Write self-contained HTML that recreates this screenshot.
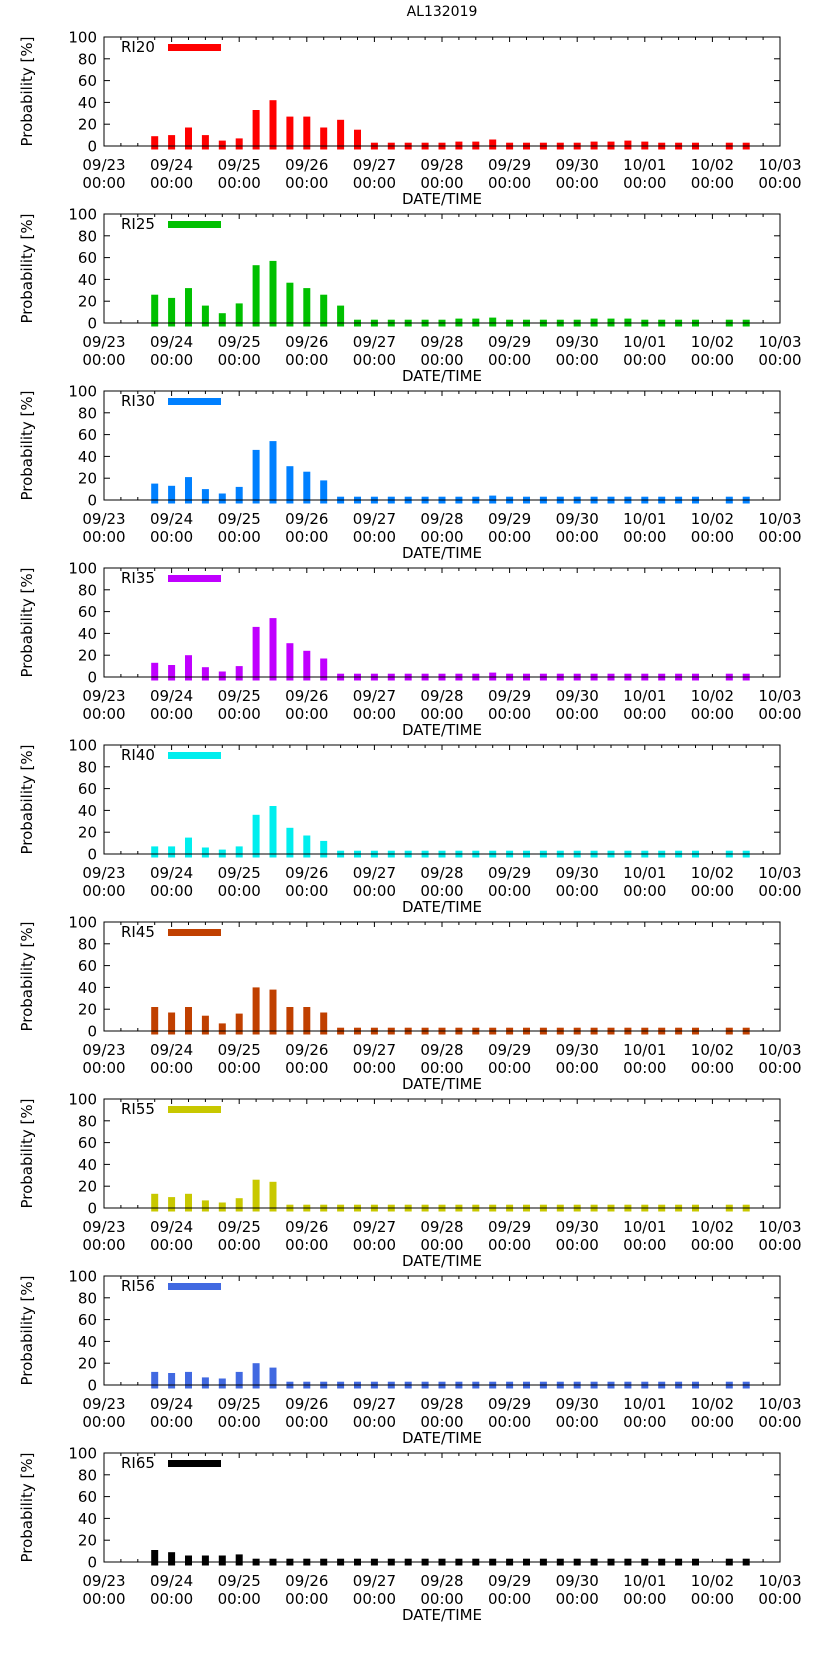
<!DOCTYPE html>
<html><head><meta charset="utf-8">
<style>
html,body{margin:0;padding:0;background:#fff;}
svg{display:block;font-family:"DejaVu Sans","Liberation Sans",sans-serif;}
</style></head>
<body>
<svg id="chart" width="822" height="1653" viewBox="0 0 822 1653" xmlns="http://www.w3.org/2000/svg">
<text x="442" y="16" text-anchor="middle" font-size="14">AL132019</text>
</svg>
<script>
// Data
const panelNames = ["RI20","RI25","RI30","RI35","RI40","RI45","RI55","RI56","RI65"];
const panelColors = ["#ff0000","#00c000","#0080ff","#c000ff","#00eeee","#c04000","#c8c800","#4169e1","#000000"];
// bar times in hours since 09/23 00:00
const barHours = [18,24,30,36,42,48,54,60,66,72,78,84,90,96,102,108,114,120,126,132,138,144,150,156,162,168,174,180,186,192,198,204,210,222,228];
const ri20 = [9,10,17,10,5,7,33,42,27,27,17,24,15,3,3,3,3,3,4,4,6,3,3,3,3,3,4,4,5,4,3,3,3,3,3];
const ri25 = [26,23,32,16,9,18,53,57,37,32,26,16,3,3,3,3,3,3,4,4,5,3,3,3,3,3,4,4,4,3,3,3,3,3,3];
const ri30 = [15,13,21,10,6,12,46,54,31,26,18,3,3,3,3,3,3,3,3,3,4,3,3,3,3,3,3,3,3,3,3,3,3,3,3];
const ri35 = [13,11,20,9,5,10,46,54,31,24,17,3,3,3,3,3,3,3,3,3,4,3,3,3,3,3,3,3,3,3,3,3,3,3,3];
const ri40 = [7,7,15,6,4,7,36,44,24,17,12,3,3,3,3,3,3,3,3,3,3,3,3,3,3,3,3,3,3,3,3,3,3,3,3];
const ri45 = [22,17,22,14,7,16,40,38,22,22,17,3,3,3,3,3,3,3,3,3,3,3,3,3,3,3,3,3,3,3,3,3,3,3,3];
const ri55 = [13,10,13,7,5,9,26,24,3,3,3,3,3,3,3,3,3,3,3,3,3,3,3,3,3,3,3,3,3,3,3,3,3,3,3];
const ri56 = [12,11,12,7,6,12,20,16,3,3,3,3,3,3,3,3,3,3,3,3,3,3,3,3,3,3,3,3,3,3,3,3,3,3,3];
const ri65 = [11,9,6,6,6,7,3,3,3,3,3,3,3,3,3,3,3,3,3,3,3,3,3,3,3,3,3,3,3,3,3,3,3,3,3];
const panelValues = [ri20,ri25,ri30,ri35,ri40,ri45,ri55,ri56,ri65];
const xTickLabels = ["09/23","09/24","09/25","09/26","09/27","09/28","09/29","09/30","10/01","10/02","10/03"];
const yTickValues = [0,20,40,60,80,100];

const NS="http://www.w3.org/2000/svg";
const svg=document.getElementById('chart');
const L=104,R=780,PH=109,STEP=177,TOP0=37;
function xScale(h){return L+(h/240)*(R-L);}
function mk(tag,attrs,parent){const e=document.createElementNS(NS,tag);for(const k in attrs)e.setAttribute(k,attrs[k]);(parent||svg).appendChild(e);return e;}

panelNames.forEach((name,p)=>{
  const top=TOP0+STEP*p, bot=top+PH;
  const yScale=v=>bot-(v/100)*PH;
  const g=mk('g',{});
  
  
  // x ticks (drawn first, bars cover them)
  for(let h=0;h<=240;h+=6){
    const x=xScale(h), len=(h%24===0)?5:3;
    mk('line',{x1:x,y1:bot,x2:x,y2:bot-3,stroke:'#000'},g);
    mk('line',{x1:x,y1:top,x2:x,y2:top+len,stroke:'#000'},g);
  }
  // y ticks
  yTickValues.forEach(v=>{
    const y=yScale(v);
    mk('line',{x1:L,y1:y,x2:L+6,y2:y,stroke:'#000'},g);
    mk('line',{x1:R,y1:y,x2:R-6,y2:y,stroke:'#000'},g);
    const t=mk('text',{x:97,y:y+5.5,'text-anchor':'end','font-size':15},g);
    t.textContent=v;
    
    
  });
  // bars
  panelValues[p].forEach((v,i)=>{
    const x=xScale(barHours[i]);
    const b=mk('rect',{x:(x-3.5).toFixed(1),y:yScale(v).toFixed(1),width:7,height:(bot+3.5-yScale(v)).toFixed(1),fill:panelColors[p]},g);
    
    
  });
  // frame
  const fr=mk('rect',{x:L,y:top,width:R-L,height:PH,fill:'none',stroke:'#000','stroke-width':1},g);
  
  
  xTickLabels.forEach((lab,i)=>{
    const x=xScale(i*24);
    const t=mk('text',{x:x,y:bot+24,'text-anchor':'middle','font-size':15},g);
    t.textContent=lab;
    
    
    const t2=mk('text',{x:x,y:bot+42,'text-anchor':'middle','font-size':15},g);
    t2.textContent='00:00';
    
    
  });
  const yt=mk('text',{x:0,y:0,'text-anchor':'middle','font-size':15,transform:`translate(32,${top+PH/2}) rotate(-90)`},g);
  yt.textContent='Probability [%]';
  
  
  const xt=mk('text',{x:442,y:bot+58,'text-anchor':'middle','font-size':15},g);
  xt.textContent='DATE/TIME';
  
  
  // legend
  const lt=mk('text',{x:121,y:top+15,'font-size':15},g);
  lt.textContent=name;
  
  
  const lb=mk('rect',{x:168,y:top+7,width:53,height:7,fill:panelColors[p]},g);
  
  
});
</script>
</body></html>
